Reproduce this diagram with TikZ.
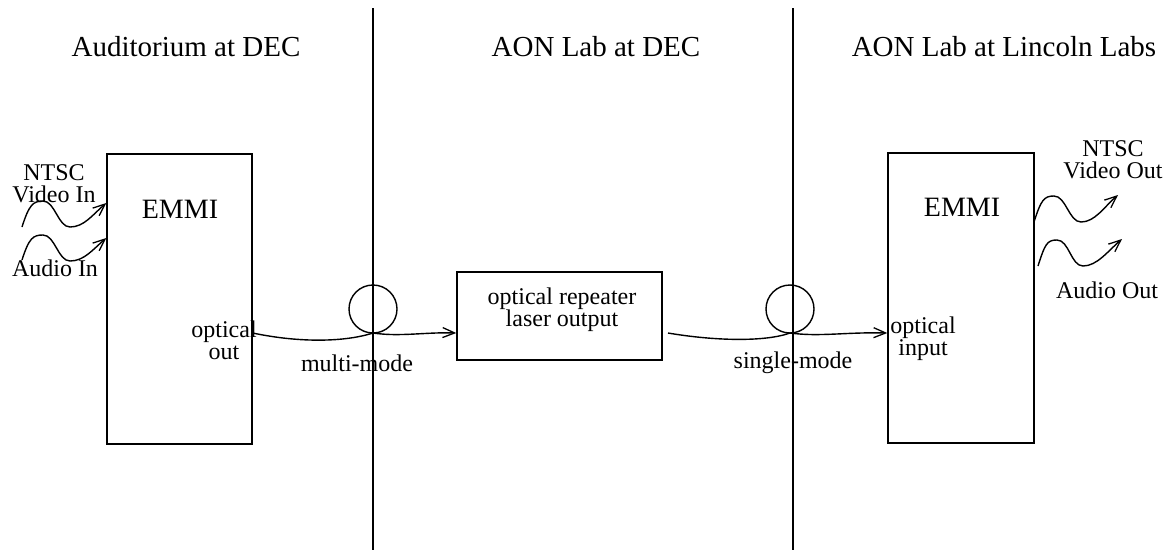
\documentclass[tikz,border=0pt]{standalone}
\usepackage{fontspec}
\setmainfont{Liberation Serif}
\usetikzlibrary{arrows.meta}
\begin{document}
\begin{tikzpicture}[x=1pt,y=-1pt,line width=1.4pt,
  >={Straight Barb[length=12pt,width=10pt,line width=1.3pt]},
  hdr/.style={inner sep=0pt,font=\fontsize{29}{32}\selectfont},
  big/.style={inner sep=0pt,font=\fontsize{28}{30}\selectfont},
  lbl/.style={inner sep=0pt,align=center,font=\fontsize{24}{22}\selectfont},
  unit/.style={draw,line width=1.4pt,inner sep=0pt}]
\useasboundingbox (0,0) rectangle (1175,550);
% dividers
\coordinate (d1t) at (373,8);
\coordinate (d1b) at (373,550);
\coordinate (d2t) at (793,8);
\coordinate (d2b) at (793,550);
\draw (d1t) -- (d1b);
\draw (d2t) -- (d2b);
% headers
\node[hdr] (h1) at (186,47) {Auditorium at DEC};
\node[hdr] (h2) at (596,47) {AON Lab at DEC};
\node[hdr] (h3) at (1004,47) {AON Lab at Lincoln Labs};
% boxes
\node[unit,minimum width=145pt,minimum height=290pt] (emmiL) at (179.5,299) {};
\node[unit,minimum width=146pt,minimum height=290pt] (emmiR) at (961,298) {};
\node[unit,minimum width=205pt,minimum height=88pt] (rep) at (559.5,316) {};
\node[big] (tL) at (180,209) {EMMI};
\node[big] (tR) at (962,207) {EMMI};
\node[lbl] (tRep) at (562,310) {optical repeater\\laser output};
% labels
\node[lbl] (oout) at (224,340) {optical\\out};
\node[lbl] (oin) at (923,339) {optical\\input};
\node[lbl] (mm) at (357,363) {multi-mode};
\node[lbl] (sm) at (793,363) {single-mode};
\node[lbl] (vin) at (54,184) {NTSC\\Video In};
\node[lbl] (ain) at (55,268) {Audio In};
\node[lbl] (vout) at (1113,160) {NTSC\\Video Out};
\node[lbl] (aout) at (1107,290) {Audio Out};
% fibres
\coordinate (x1) at (373,333);
\coordinate (x2) at (790,333);
\draw[->] (emmiL.east |- x1) .. controls (300,343) and (345,342) .. (x1)
   .. controls (400,337) and (425,332) .. (rep.west |- x1);
\draw (x1) ++(0,-24) circle[radius=24];
\coordinate (s2) at (668,333);
\draw[->] (s2) .. controls (715,341) and (765,342) .. (x2)
   .. controls (820,337) and (845,332) .. (emmiR.west |- x2);
\draw (x2) ++(0,-24) circle[radius=24];
% waves
\coordinate (w1) at (22,227);
\coordinate (w2) at (22,260);
\coordinate (w3) at (1034,222);
\coordinate (w4) at (1038,266);
\draw[->] (w1) .. controls +(7,-22) and +(-10,0) .. ++(21,-26)
  .. controls +(12,0) and +(-12,0) .. ++(27,26)
  .. controls +(14,0) and +(-14,12) .. (emmiL.west |- 0,203);
\draw[->] (w2) .. controls +(7,-22) and +(-10,0) .. ++(21,-25)
  .. controls +(12,0) and +(-12,0) .. ++(27,26)
  .. controls +(14,0) and +(-14,12) .. (emmiL.west |- 0,238);
\draw[->] (w3) .. controls +(7,-22) and +(-10,0) .. ++(20,-26)
  .. controls +(12,0) and +(-12,0) .. ++(27,26)
  .. controls +(14,0) and +(-14,12) .. ++(37,-27);
\draw[->] (w4) .. controls +(7,-22) and +(-10,0) .. ++(19,-26)
  .. controls +(12,0) and +(-12,0) .. ++(26,26)
  .. controls +(14,0) and +(-14,12) .. ++(39,-27);
\end{tikzpicture}
\end{document}
